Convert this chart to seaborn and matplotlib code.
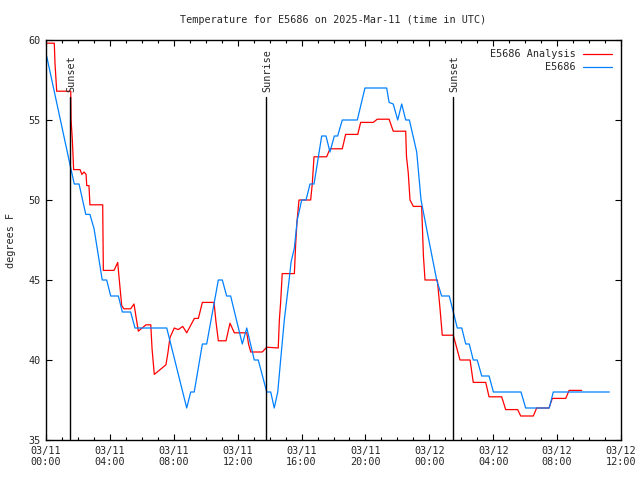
import pandas as pd
import matplotlib
matplotlib.use("Agg")
import matplotlib.pyplot as plt
import matplotlib.dates as mdates
import seaborn as sns

# hours since 2025-03-11 00:00 UTC
start = pd.Timestamp("2025-03-11 00:00")

analysis_hours = [0.04, 0.52, 0.56, 0.67, 1.55, 1.57, 1.65, 1.73, 2.13, 2.25,
                  2.38, 2.51, 2.55, 2.69, 2.75, 3.55, 3.59, 4.26, 4.49, 4.57,
                  4.74, 4.88, 5.30, 5.51, 5.62, 5.78, 6.26, 6.56, 6.64, 6.78,
                  7.51, 7.64, 7.76, 8.03, 8.28, 8.56, 8.81, 9.29, 9.54, 9.79,
                  10.52, 10.64, 10.79, 11.27, 11.52, 11.79, 12.57, 12.68, 12.82, 13.54,
                  13.82, 14.54, 14.61, 14.69, 14.79, 15.55, 15.63, 15.71, 15.84, 16.57,
                  16.67, 16.78, 17.57, 17.78, 18.55, 18.76, 19.52, 19.70, 20.49, 20.74,
                  21.48, 21.74, 22.52, 22.57, 22.68, 22.79, 23.00, 23.52, 23.63, 23.73,
                  24.50, 24.67, 24.81, 25.50, 25.92, 26.55, 26.75, 27.53, 27.74, 28.53,
                  28.78, 29.53, 29.72, 30.51, 30.72, 31.49, 31.70, 32.54, 32.75, 33.54]
analysis_temps = [59.8, 59.8, 58.6, 56.8, 56.8, 55.0, 53.75, 51.9, 51.9, 51.6,
                  51.75, 51.6, 50.9, 50.9, 49.7, 49.7, 45.6, 45.6, 46.1, 45.2,
                  43.4, 43.2, 43.2, 43.5, 42.8, 41.8, 42.2, 42.2, 40.7, 39.1,
                  39.7, 40.5, 41.4, 42.0, 41.9, 42.1, 41.7, 42.6, 42.6, 43.6,
                  43.6, 42.4, 41.2, 41.2, 42.3, 41.7, 41.7, 41.0, 40.5, 40.5,
                  40.8, 40.75, 42.5, 43.6, 45.4, 45.4, 47.2, 48.6, 50.0, 50.0,
                  51.0, 52.7, 52.7, 53.2, 53.2, 54.1, 54.1, 54.85, 54.85, 55.05,
                  55.05, 54.3, 54.3, 52.7, 51.7, 50.0, 49.6, 49.6, 46.5, 45.0,
                  45.0, 43.2, 41.55, 41.55, 40.0, 40.0, 38.6, 38.6, 37.7, 37.7,
                  36.9, 36.9, 36.5, 36.5, 37.0, 37.0, 37.6, 37.6, 38.1, 38.1]

station_hours = [0.04, 1.57, 1.77, 2.07, 2.49, 2.75, 3.01, 3.52, 3.80, 4.05,
                 4.53, 4.78, 5.30, 5.57, 7.56, 8.81, 9.06, 9.28, 9.79, 10.06,
                 10.79, 11.04, 11.31, 11.56, 12.29, 12.57, 13.04, 13.29, 13.82, 14.07,
                 14.29, 14.51, 14.69, 14.92, 15.21, 15.34, 15.55, 15.73, 16.01, 16.28,
                 16.53, 16.78, 16.99, 17.26, 17.53, 17.78, 18.05, 18.26, 18.55, 19.49,
                 19.97, 21.33, 21.48, 21.74, 22.02, 22.27, 22.52, 22.75, 23.21, 23.48,
                 23.83, 24.46, 24.77, 25.25, 25.50, 25.75, 26.03, 26.28, 26.50, 26.75,
                 27.00, 27.28, 27.74, 28.01, 29.74, 30.03, 31.51, 31.76, 35.27]
station_temps = [59.0, 51.9, 51.0, 51.0, 49.1, 49.1, 48.2, 45.0, 45.0, 44.0,
                 44.0, 43.0, 43.0, 42.0, 42.0, 37.0, 38.0, 38.0, 41.0, 41.0,
                 45.0, 45.0, 44.0, 44.0, 41.0, 42.0, 40.0, 40.0, 38.0, 38.0,
                 37.0, 38.0, 40.0, 42.5, 44.9, 46.1, 47.0, 48.75, 50.0, 50.0,
                 51.0, 51.0, 52.3, 54.0, 54.0, 53.0, 54.0, 54.0, 55.0, 55.0,
                 57.0, 57.0, 56.1, 56.0, 55.0, 56.0, 55.0, 55.0, 53.0, 50.0,
                 48.2, 45.0, 44.0, 44.0, 43.0, 42.0, 42.0, 41.0, 41.0, 40.0,
                 40.0, 39.0, 39.0, 38.0, 38.0, 37.0, 37.0, 38.0, 38.0]

sun_labels = ["Sunset", "Sunrise", "Sunset"]
sun_hours = [1.52, 13.79, 25.48]

analysis = pd.DataFrame({"time": start + pd.to_timedelta(analysis_hours, unit="h"),
                         "temp": analysis_temps})
station = pd.DataFrame({"time": start + pd.to_timedelta(station_hours, unit="h"),
                        "temp": station_temps})

sns.set_theme(style="ticks")
plt.rcParams["font.family"] = ["DejaVu Sans Mono"]
plt.rcParams["font.size"] = 7.3

fig = plt.figure(figsize=(6.4, 4.8), dpi=100)
ax = fig.add_axes([46 / 640, 40 / 480, 575 / 640, 400 / 480])

sns.lineplot(data=analysis, x="time", y="temp", ax=ax, color="#ff0000",
             lw=0.9, label="E5686 Analysis")
sns.lineplot(data=station, x="time", y="temp", ax=ax, color="#0080ff",
             lw=0.9, label="E5686")

for lab, h in zip(sun_labels, sun_hours):
    t = start + pd.Timedelta(hours=h)
    ax.plot([t, t], [35, 56.45], color="black", lw=1.0)
    ax.text(t + pd.Timedelta(minutes=4), 56.75, lab, rotation=90,
            ha="center", va="bottom", fontsize=7.3)

ax.set_xlim(start, start + pd.Timedelta(hours=36))
ax.set_ylim(35, 60)
ax.set_yticks([35, 40, 45, 50, 55, 60])
ax.xaxis.set_major_locator(mdates.HourLocator(byhour=range(0, 24, 4)))
ax.xaxis.set_minor_locator(mdates.HourLocator())
ax.xaxis.set_major_formatter(mdates.DateFormatter("%m/%d\n%H:%M"))

for s in ax.spines.values():
    s.set_visible(True)
    s.set_color("black")
    s.set_linewidth(1.0)
ax.tick_params(which="both", direction="in", top=True, right=True,
               color="black", width=0.8, labelsize=7.3)
ax.tick_params(which="major", length=4, pad=4)
ax.tick_params(which="minor", length=2)

ax.set_xlabel("")
ax.set_ylabel("degrees F", fontsize=7.3, labelpad=9)
ax.set_title("Temperature for E5686 on 2025-Mar-11 (time in UTC)",
             fontsize=7.3, pad=12.5)

ax.legend(loc="upper right", frameon=False, markerfirst=False,
          handlelength=2.8, handletextpad=0.8, labelspacing=0.3,
          borderaxespad=0.5, fontsize=7.3)

fig.savefig("out.png", dpi=100)
